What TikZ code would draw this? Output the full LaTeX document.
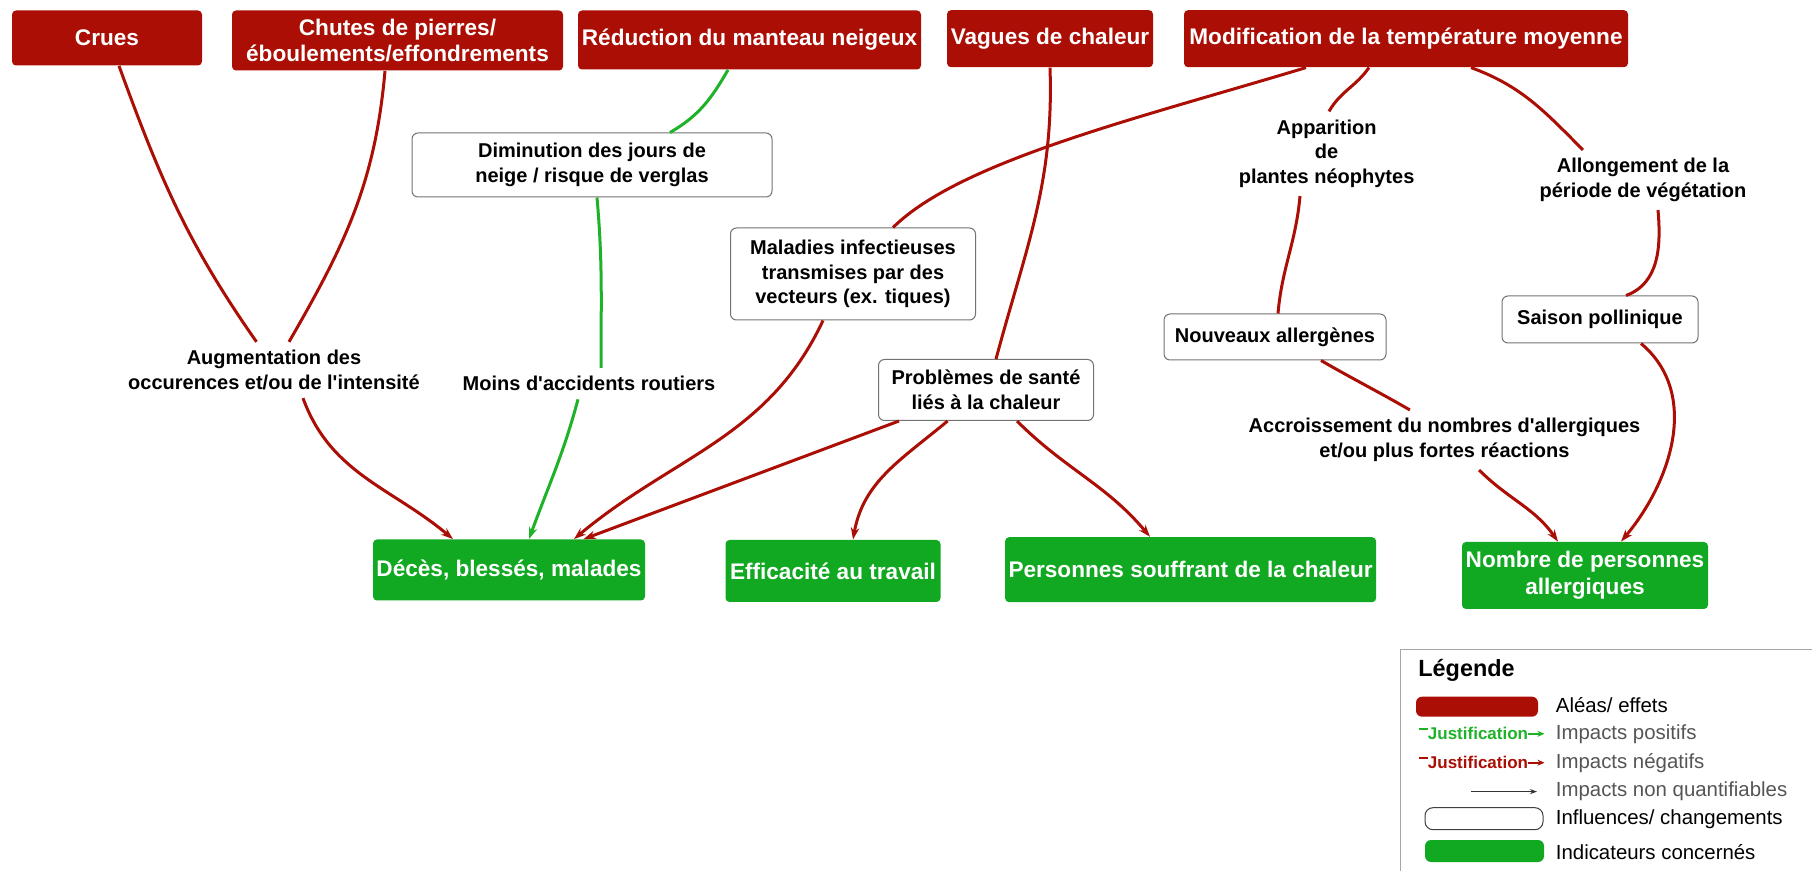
\documentclass[tikz,border=0pt]{standalone}
\usepackage{fontspec}
\setmainfont{Liberation Sans}[Ligatures=TeXOff]
\usetikzlibrary{arrows.meta}
\definecolor{aleared}{RGB}{170,14,5}
\definecolor{indicgreen}{RGB}{17,168,34}
\definecolor{posgreen}{RGB}{30,178,40}
\definecolor{legtxt}{RGB}{85,85,85}
\tikzset{
  aleabox/.style={fill=aleared, text=white, rounded corners=2pt, inner sep=0pt,
    align=center, font=\fontsize{11.3}{13.3}\selectfont\bfseries},
  influbox/.style={draw=black!55, fill=white, rounded corners=3pt, inner sep=0pt,
    line width=0.5pt, align=center, font=\fontsize{10}{12.3}\selectfont\bfseries},
  indicbox/.style={fill=indicgreen, text=white, rounded corners=2pt, inner sep=0pt,
    align=center, font=\fontsize{11.3}{13.3}\selectfont\bfseries},
  justif/.style={inner sep=4pt, align=center, font=\fontsize{10}{12.3}\selectfont\bfseries},
  negline/.style={draw=aleared, line width=1.5pt},
  posline/.style={draw=posgreen, line width=1.5pt},
  arr/.style={-{Stealth[length=6pt,width=4.2pt]}},
  legtext/.style={anchor=west, inner sep=0pt, font=\fontsize{10.2}{12}\selectfont}
}
\begin{document}
\begin{tikzpicture}[x=0.5pt,y=-0.5pt]
        \useasboundingbox (0,0) rectangle (1812,871);
        %% Aleas
        \node[aleabox,minimum width=95pt,minimum height=27.5pt] (crues) at (107,38) {Crues};
        \node[aleabox,minimum width=165.5pt,minimum height=30pt] (chutes) at (397.5,40.5) {Chutes de pierres/\\éboulements/effondrements};
        \node[aleabox,minimum width=171.5pt,minimum height=29.5pt] (reduc) at (749.5,40) {Réduction du manteau neigeux};
        \node[aleabox,minimum width=103pt,minimum height=28.5pt] (vagues) at (1050,38.7) {Vagues de chaleur};
        \node[aleabox,minimum width=222pt,minimum height=28.5pt] (modif) at (1406,38.7) {Modification de la température moyenne};
        %% Influences
        \node[influbox,minimum width=180pt,minimum height=32pt] (dimin) at (592,165) {Diminution des jours de\\neige / risque de verglas};
        \node[influbox,minimum width=122.5pt,minimum height=46pt] (malad) at (853,274) {Maladies infectieuses\\transmises par des\\vecteurs (ex. tiques)};
        \node[influbox,minimum width=107.5pt,minimum height=30.5pt] (probl) at (986,390) {Problèmes de santé\\liés à la chaleur};
        \node[influbox,minimum width=111pt,minimum height=23pt] (nouv) at (1275,337) {Nouveaux allergènes};
        \node[influbox,minimum width=98pt,minimum height=23.5pt] (saison) at (1600,319.5) {Saison pollinique};
        %% Indicateurs
        \node[indicbox,minimum width=136pt,minimum height=30.5pt] (deces) at (509,570) {Décès, blessés, malades};
        \node[indicbox,minimum width=107.5pt,minimum height=31pt] (effic) at (833,571) {Efficacité au travail};
        \node[indicbox,minimum width=185.5pt,minimum height=32.5pt] (souffr) at (1190.6,569.7) {Personnes souffrant de la chaleur};
        \node[indicbox,minimum width=123pt,minimum height=33.5pt] (nombre) at (1585,575.5) {Nombre de personnes\\allergiques};
        %% Justifications
        \node[justif] (augm) at (274,370) {Augmentation des\\occurences et/ou de l'intensité};
        \node[justif] (moins) at (589,383.6) {Moins d'accidents routiers};
        \node[justif] (appar) at (1326.6,153.7) {Apparition\\de\\plantes néophytes};
        \node[justif] (allong) at (1643,180) {Allongement de la\\période de végétation};
        \node[justif] (accr) at (1444.5,440) {Accroissement du nombres d'allergiques\\et/ou plus fortes réactions};
        %% Crues, chutes
        \draw[negline] ([xshift=6pt]crues.south) to[out=-70,in=125] ([xshift=-8.75pt]augm.north);
        \draw[negline] ([xshift=-6.25pt]chutes.south) to[out=-95,in=60] ([xshift=7.5pt]augm.north);
        \draw[negline,arr] ([xshift=14.5pt]augm.south) to[out=-70,in=140] ([xshift=-28pt]deces.north);
        %% Neige
        \draw[posline] ([xshift=-10.75pt]reduc.south) to[out=-120,in=30] ([xshift=39pt]dimin.north);
        \draw[posline] ([xshift=2.5pt]dimin.south) to[out=-85,in=90] ([xshift=6pt]moins.north);
        \draw[posline,arr] ([xshift=-5.5pt]moins.south) to[out=-105,in=70] ([xshift=10pt]deces.north);
        %% Maladies
        \draw[negline] ([xshift=-50pt]modif.south) .. controls +(-165,50) and +(68,-67) .. ([xshift=20pt]malad.north);
        \draw[negline,arr] ([xshift=-15pt]malad.south) to[out=-115,in=40] ([xshift=32.5pt]deces.north);
        %% Chaleur
        \draw[negline] (vagues.south) to[out=-88,in=75] ([xshift=5pt]probl.north);
        \draw[negline,arr] ([xshift=-43.5pt]probl.south) -- ([xshift=37.3pt]deces.north);
        \draw[negline,arr] ([xshift=-19.2pt]probl.south) to[out=-140,in=80] ([xshift=10pt]effic.north);
        \draw[negline,arr] ([xshift=15.5pt]probl.south) to[out=-45,in=130] ([xshift=-20.3pt]souffr.north);
        %% Allergies
        \draw[negline] ([xshift=-18.5pt]modif.south) to[out=-125,in=60] ([xshift=1.2pt]appar.north);
        \draw[negline] ([xshift=-13.3pt]appar.south) to[out=-95,in=85] ([xshift=1.5pt]nouv.north);
        \draw[negline] ([xshift=23pt]nouv.south) to[out=-30,in=150] ([xshift=-17.3pt]accr.north);
        \draw[negline,arr] ([xshift=17.3pt]accr.south) to[out=-45,in=125] ([xshift=-13.5pt]nombre.north);
        \draw[negline] ([xshift=32.5pt]modif.south) to[out=-20,in=135] ([xshift=-30pt]allong.north);
        \draw[negline] ([xshift=7.5pt]allong.south) to[out=-85,in=20] ([xshift=13pt]saison.north);
        \draw[negline,arr] ([xshift=20.5pt]saison.south) to[out=-40,in=50] ([xshift=18pt]nombre.north);
        %% Legende
        \draw[black!35,line width=0.6pt] (1400.5,871) |- (1812,649.4);
        \node[anchor=west,inner sep=0pt,font=\fontsize{11.7}{14}\selectfont\bfseries] (legtitle) at (1418,670) {Légende};
        \node[fill=aleared,rounded corners=3pt,minimum width=61pt,minimum height=10pt,inner sep=0pt] (legalea) at (1477,706.7) {};
        \node[legtext] (legaleatxt) at (1555.5,705) {Aléas/ effets};
        \node[inner sep=0pt,text=posgreen,font=\fontsize{8.5}{10}\selectfont\bfseries] (legpos) at (1478,733.8) {Justification};
        \draw[posline,line width=0.9pt] ([yshift=2.5pt]legpos.west) -- ++(-9,0);
        \draw[posline,line width=0.9pt,-{Stealth[length=3.5pt,width=3pt]}] (legpos.east) -- ++(16,0);
        \node[legtext,text=legtxt] (legpostxt) at (1555.5,733.8) {Impacts positifs};
        \node[inner sep=0pt,text=aleared,font=\fontsize{8.5}{10}\selectfont\bfseries] (legneg) at (1478,762.7) {Justification};
        \draw[negline,line width=0.9pt] ([yshift=2.5pt]legneg.west) -- ++(-9,0);
        \draw[negline,line width=0.9pt,-{Stealth[length=3.5pt,width=3pt]}] (legneg.east) -- ++(16,0);
        \node[legtext,text=legtxt] (legnegtxt) at (1555.5,762.7) {Impacts négatifs};
        \coordinate (legarra) at (1471,791.6);
        \coordinate (legarrb) at (1537,791.6);
        \draw[black!80,line width=0.6pt,-{Stealth[length=3.5pt,width=2.5pt]}] (legarra) -- (legarrb);
        \node[legtext,text=legtxt] (legnqtxt) at (1555.5,791.6) {Impacts non quantifiables};
        \node[draw=black!75,fill=white,rounded corners=4pt,minimum width=59pt,minimum height=11pt,inner sep=0pt,line width=0.5pt] (leginfl) at (1484,818.7) {};
        \node[legtext] (leginfltxt) at (1555.5,819.3) {Influences/ changements};
        \node[fill=indicgreen,rounded corners=3pt,minimum width=59.5pt,minimum height=11pt,inner sep=0pt] (legindic) at (1484.5,851) {};
        \node[legtext] (legindictxt) at (1555.5,851.7) {Indicateurs concernés};
\end{tikzpicture}
\end{document}
